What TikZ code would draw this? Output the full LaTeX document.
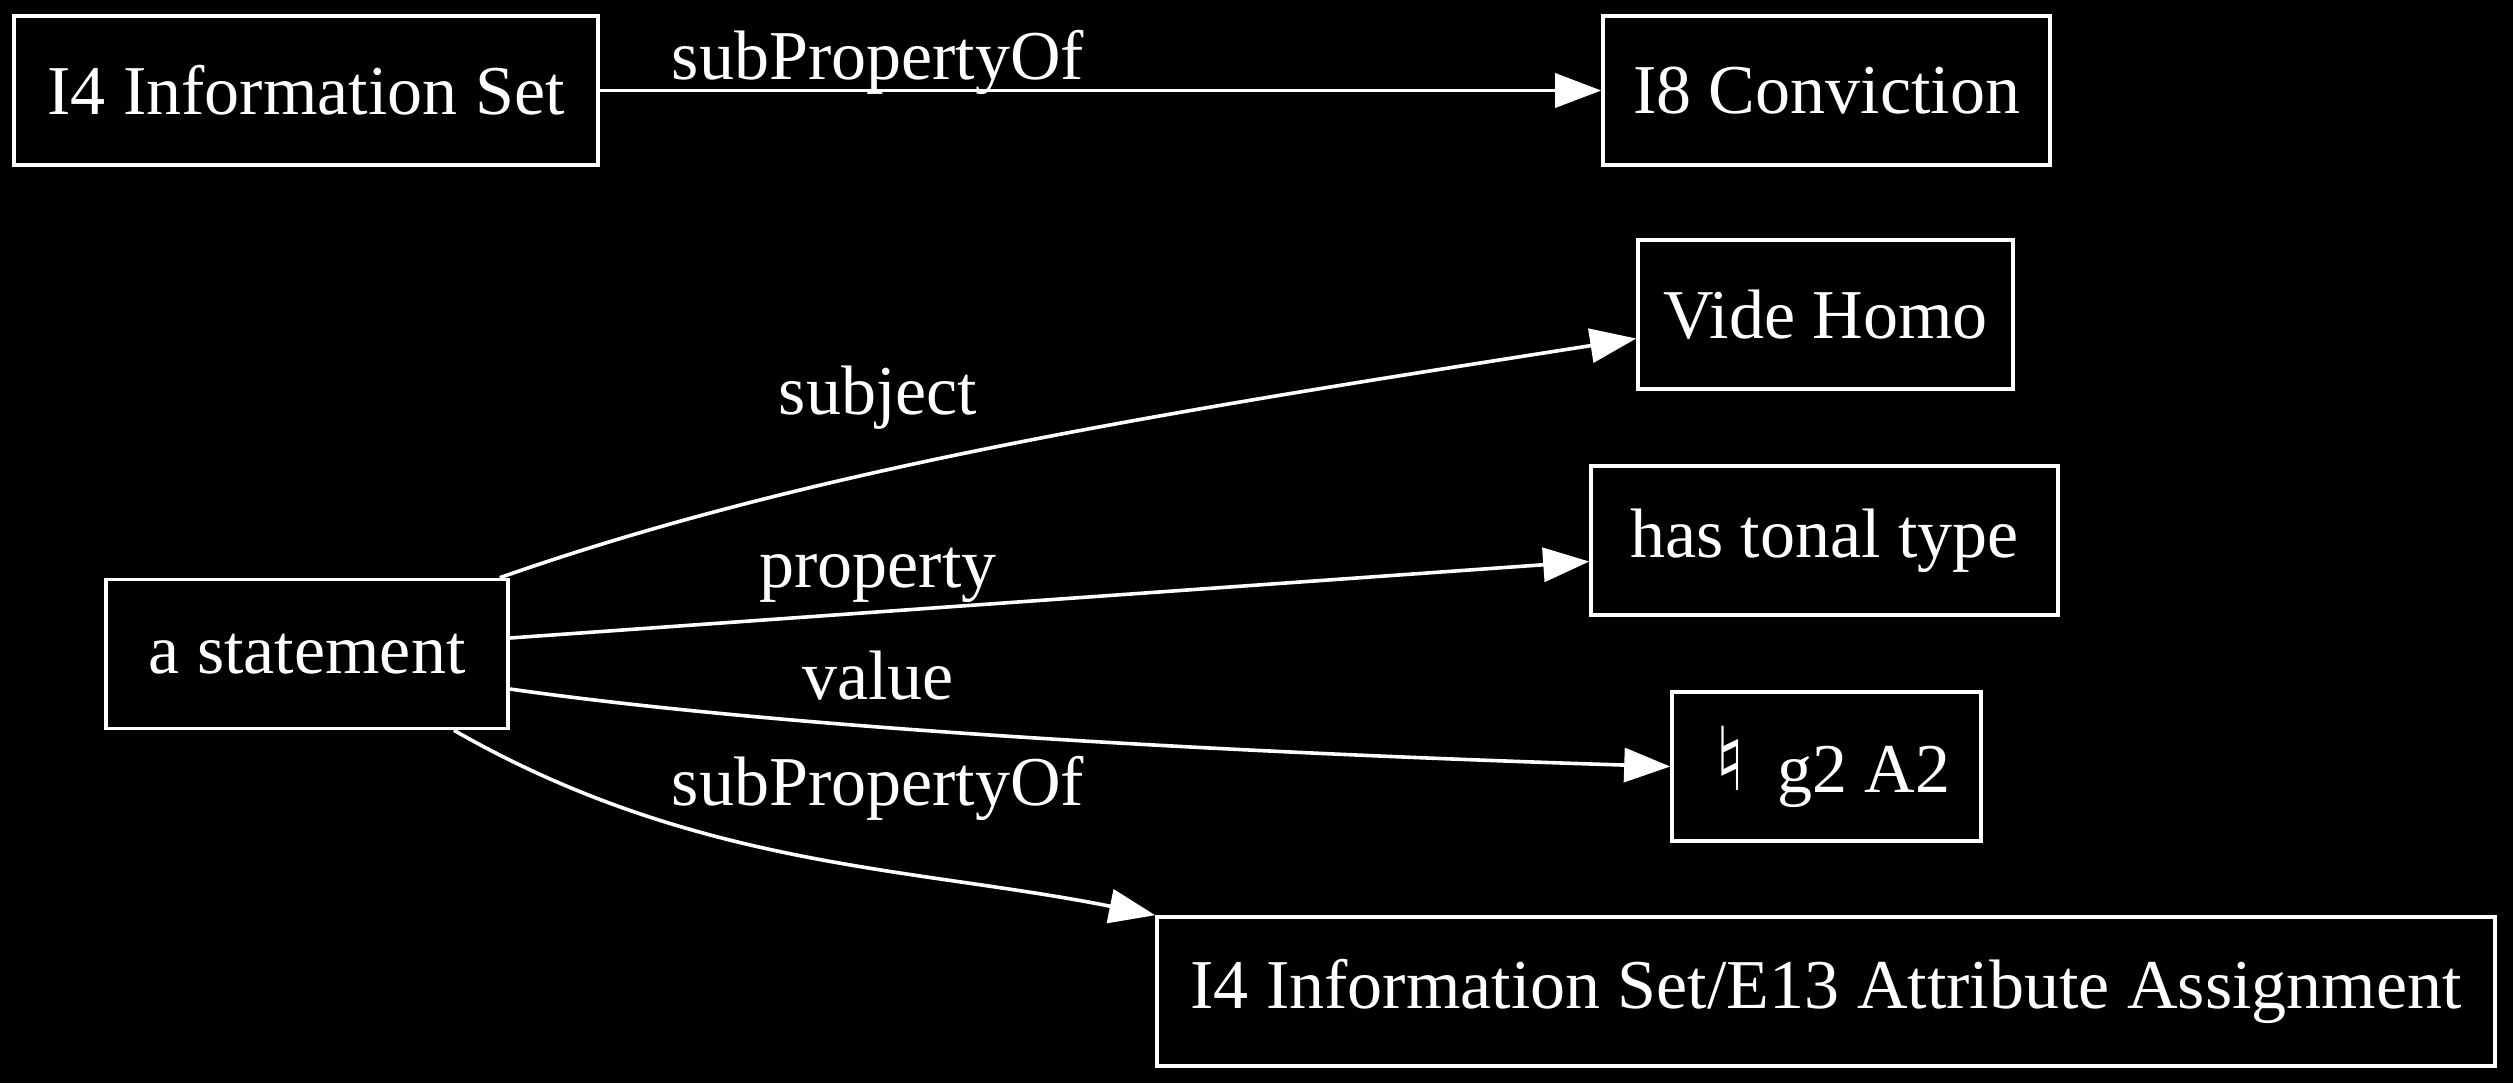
\documentclass[tikz,border=0pt]{standalone}
\usepackage{fontspec}
\setmainfont{Liberation Serif}
\newfontfamily\symfont{DejaVu Sans}
\usetikzlibrary{arrows.meta,calc}
\begin{document}
\begin{tikzpicture}[x=0.5pt,y=-0.5pt,
  box/.style={draw=white,line width=1.8pt,text=white,minimum height=74.5pt,inner sep=0pt,font=\fontsize{35}{42}\selectfont},
  lbl/.style={text=white,font=\fontsize{35}{42}\selectfont,inner sep=0pt},
  edge/.style={draw=white,line width=1.8pt,-{Triangle[length=23pt,width=17pt]}}]
\fill[black] (0,0) rectangle (2513,1083);
\useasboundingbox (0,0) rectangle (2513,1083);
\node[box,minimum width=292pt] (n1) at (306,90.5) {I4 Information Set};
\node[box,minimum width=223.5pt] (n2) at (1826.5,90.5) {I8 Conviction};
\node[box,minimum width=187.5pt] (n3) at (1825.5,314.5) {Vide Homo};
\node[box,minimum width=233.5pt] (n4) at (1824.5,540.5) {has tonal type};
\node[box,minimum width=154.5pt] (n5) at (1826.5,766.5) {\hspace{6pt}\raisebox{1pt}{\symfont\fontsize{44}{50}\selectfont ♮}\hspace{0.45em}g2 A2};
\node[box,minimum width=669pt] (n6) at (1826,991.5) {I4 Information Set/E13 Attribute Assignment};
\node[box,minimum width=201pt] (n7) at (307,654) {a statement};
\draw[edge] (n1.east) -- (n2.west);
\draw[edge] ($(n7.north east)+(-10,0)$) .. controls (820,465) and (1193,408) .. ($(n3.west)+(0,24)$);
\draw[edge] ($(n7.east)+(0,-16)$) -- ($(n4.west)+(0,21)$);
\draw[edge] ($(n7.east)+(0,35)$) .. controls (805,731) and (1272,754) .. (n5.west);
\draw[edge] ($(n7.south)+(147,0)$) .. controls (696,869) and (914,867) .. (n6.north west);
\node[lbl] (l1) at (878,62) {subPropertyOf};
\node[lbl] (l2) at (878,398) {subject};
\node[lbl] (l3) at (878,575) {property};
\node[lbl] (l4) at (878,676) {value};
\node[lbl] (l5) at (878,788) {subPropertyOf};
\end{tikzpicture}
\end{document}
